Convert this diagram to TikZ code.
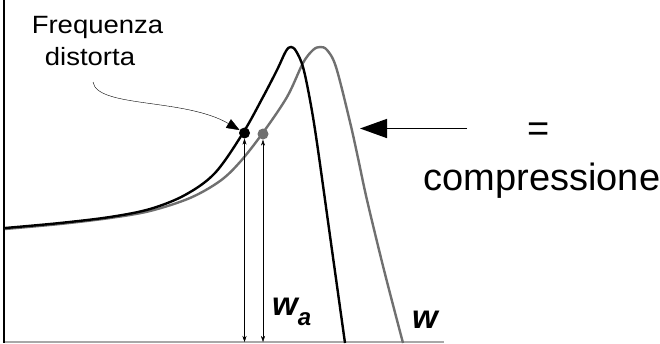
\documentclass[tikz,border=0pt]{standalone}
\usepackage{fontspec}
\setmainfont{Liberation Sans}
\usetikzlibrary{arrows.meta}
\definecolor{blackmain}{HTML}{000000}
\definecolor{graycurve}{HTML}{707070}
\definecolor{grayaxis}{HTML}{A8A8A8}
\tikzset{every node/.append style={inner sep=0pt},
  freqlabel/.style={anchor=base,xscale=1.1,font=\fontsize{25}{25}\selectfont},
  wlabel/.style={anchor=base west,font=\fontsize{33}{33}\selectfont\bfseries\itshape}}

\begin{document}
\begin{tikzpicture}[>=Stealth,x=1pt,y=-1pt]
  % pixel grid of the reference, y pointing down
  \useasboundingbox (0,0) rectangle (660,343);
  \coordinate (xend) at (444,342);
  \draw[grayaxis,line width=1.6pt] (4,342)--(xend);
  \draw[blackmain,line width=1.4pt] (4,0)--(4,342.8);
  % original (grey) and distorted (black) response
  \draw[graycurve,line width=2.4pt,smooth,tension=.55] plot coordinates
    {(5,229) (60,224) (110,218) (150,211) (190,198) (220,181) (240,162)
     (262,134) (287,97) (303,63) (313,50) (320,47) (327,50) (336,67)
     (350,122) (358,158) (367,200) (384,270) (403,343)};
  \draw[blackmain,line width=2.4pt,smooth,tension=.55] plot coordinates
    {(5,228) (60,223) (110,217) (150,209) (185,195) (215,173) (243,133)
     (263,97) (277,70) (286,51) (291,47) (296,51) (303,67) (310,100)
     (317,143) (331,243) (345,343)};
  \node[circle,fill=blackmain,minimum size=11pt] (pa) at (244.5,133) {};
  \node[circle,fill=graycurve,minimum size=11pt] (pb) at (263,134) {};
  \draw[<->,>={Stealth[length=6pt,width=4pt]},thin] (pa.south) -- (pa.south |- xend);
  \draw[<->,>={Stealth[length=6pt,width=4pt]},thin] (pb.south) -- (pb.south |- xend);
  % labels
  \node[freqlabel] (freqa) at (97.5,33) {Frequenza};
  \node[freqlabel] (freqb) at (90,65) {distorta};
  \coordinate (bend) at (93,82);
  \draw[->,>={Triangle[length=13pt,width=10pt]},thin]
    (bend) .. controls (97,108) and (185,98) .. (pa);
  \node[font=\fontsize{38}{38}\selectfont] (eq) at (539,132.5) {=};
  \node[anchor=base,font=\fontsize{38}{38}\selectfont] (comp) at (542,190)
    {compressione};
  \coordinate (astart) at (467,128.5);
  \coordinate (atip) at (360,128.5);
  \draw[-{Triangle[length=27pt,width=19pt]},line width=1.5pt] (astart) -- (atip);
  \node[wlabel] (wa) at (272,315)
    {w\raisebox{-10pt}{\fontsize{24}{24}\selectfont a}};
  \node[wlabel] (w) at (412,328) {w};
\end{tikzpicture}
\end{document}
